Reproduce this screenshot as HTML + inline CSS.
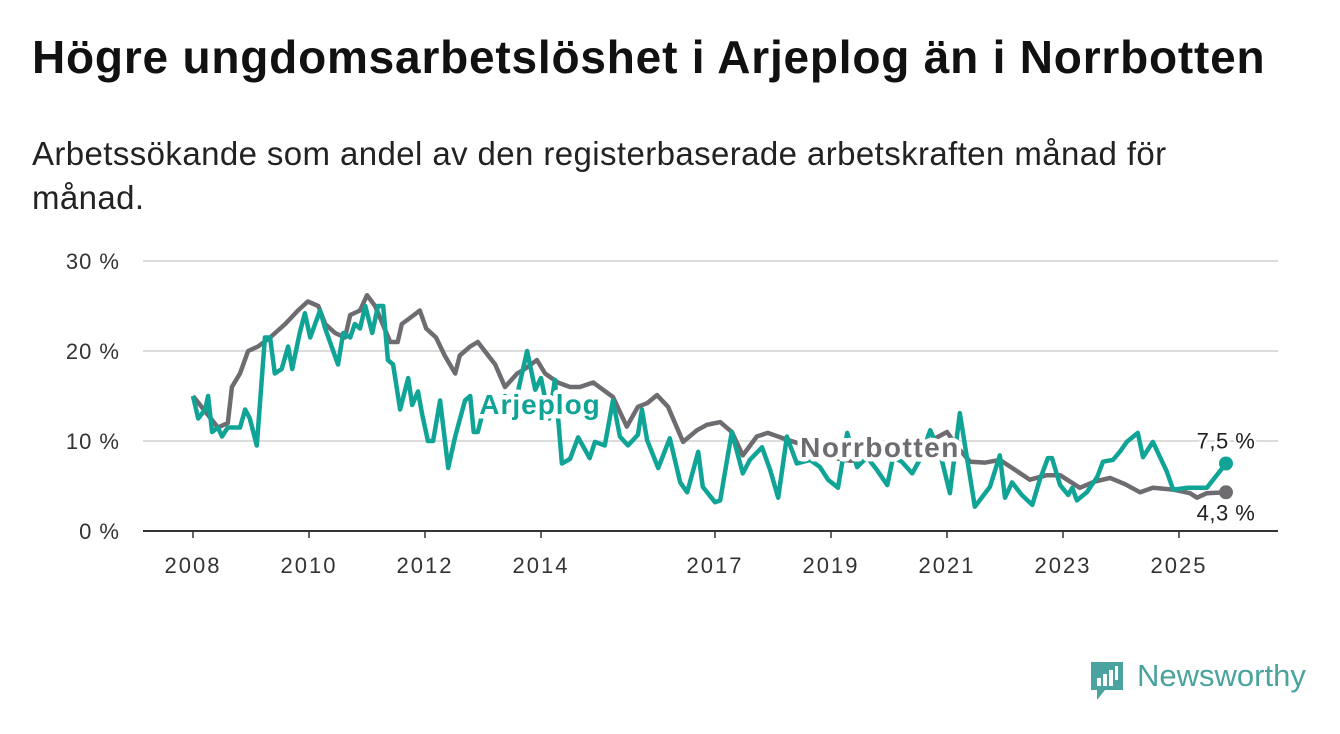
<!DOCTYPE html>
<html><head><meta charset="utf-8">
<style>
body{margin:0;width:1340px;height:734px;background:#fff;overflow:hidden;font-family:"Liberation Sans",sans-serif;}
h1{position:absolute;left:32px;top:30px;margin:0;font-size:46px;font-weight:bold;color:#111;letter-spacing:0.8px;white-space:nowrap}
.sub{position:absolute;left:32px;top:132px;font-size:33px;color:#222;line-height:44px;width:1200px;letter-spacing:0.4px}
svg{position:absolute;left:0;top:0}
</style></head><body>
<h1>Högre ungdomsarbetslöshet i Arjeplog än i Norrbotten</h1>
<div class="sub">Arbetssökande som andel av den registerbaserade arbetskraften månad för månad.</div>
<svg id="chart" width="1340" height="734"></svg>
<div style="position:absolute;left:1089px;top:660px;">
<svg width="36" height="42" style="position:static"><path d="M2 2h32v28H16l-8 10v-10H2z" fill="#4aa39e"/><rect x="8" y="18" width="4" height="8" fill="#fff"/><rect x="14" y="14" width="4" height="12" fill="#fff"/><rect x="20" y="10" width="4" height="16" fill="#fff"/><rect x="26" y="6" width="3" height="14" fill="#fff"/></svg>
<span style="position:absolute;left:48px;top:-2px;font-size:31px;color:#4aa39e;white-space:nowrap">Newsworthy</span></div>
<script>
const yTicks=[0,10,20,30];
const xTickYears=[2008,2010,2012,2014,2017,2019,2021,2023,2025];
const norrYears=[2008.00,2008.43,2008.60,2008.67,2008.81,2008.95,2009.12,2009.33,2009.59,2009.81,2009.98,2010.16,2010.28,2010.45,2010.62,2010.71,2010.88,2011.00,2011.14,2011.40,2011.53,2011.60,2011.81,2011.91,2012.02,2012.19,2012.34,2012.52,2012.60,2012.78,2012.91,2013.09,2013.21,2013.38,2013.59,2013.72,2013.93,2014.07,2014.29,2014.50,2014.67,2014.90,2015.24,2015.48,2015.67,2015.83,2016.00,2016.19,2016.45,2016.69,2016.86,2017.09,2017.29,2017.48,2017.72,2017.91,2018.17,2018.41,2018.64,2018.98,2019.33,2019.67,2020.02,2020.36,2020.71,2021.00,2021.22,2021.40,2021.66,2021.91,2022.17,2022.43,2022.72,2022.95,2023.29,2023.55,2023.81,2024.07,2024.33,2024.55,2024.90,2025.19,2025.31,2025.48,2025.81];
const norrVals=[15,11.5,12,16,17.5,20,20.5,21.5,23,24.5,25.5,25,23,22,21.5,24,24.5,26.2,25,21,21,23,24,24.5,22.5,21.5,19.5,17.5,19.5,20.5,21,19.5,18.5,16,17.5,18,19,17.5,16.5,16,16,16.5,14.9,11.6,13.8,14.2,15.1,13.8,9.9,11.2,11.8,12.1,11,8.4,10.5,10.9,10.3,9.8,9,8.2,7.8,8,8.5,9,10,11,9,7.7,7.6,7.9,6.8,5.7,6.2,6.2,4.8,5.5,5.9,5.2,4.3,4.8,4.6,4.2,3.7,4.2,4.3];
const arjYears=[2008.00,2008.09,2008.21,2008.26,2008.33,2008.43,2008.50,2008.60,2008.81,2008.90,2008.98,2009.10,2009.24,2009.33,2009.41,2009.53,2009.64,2009.71,2009.84,2009.93,2010.02,2010.19,2010.28,2010.50,2010.59,2010.71,2010.79,2010.88,2010.97,2011.09,2011.19,2011.28,2011.36,2011.45,2011.57,2011.71,2011.78,2011.88,2011.95,2012.05,2012.14,2012.26,2012.40,2012.52,2012.69,2012.78,2012.84,2012.91,2013.03,2013.21,2013.38,2013.55,2013.76,2013.90,2014.00,2014.14,2014.24,2014.36,2014.50,2014.64,2014.84,2014.93,2015.10,2015.24,2015.36,2015.50,2015.67,2015.74,2015.83,2016.02,2016.22,2016.40,2016.52,2016.71,2016.79,2017.00,2017.09,2017.29,2017.48,2017.60,2017.81,2017.95,2018.09,2018.24,2018.41,2018.64,2018.81,2018.95,2019.12,2019.28,2019.45,2019.62,2019.79,2019.97,2020.07,2020.22,2020.40,2020.53,2020.71,2020.88,2021.05,2021.22,2021.48,2021.74,2021.91,2022.00,2022.12,2022.29,2022.47,2022.60,2022.74,2022.81,2022.95,2023.09,2023.16,2023.24,2023.41,2023.59,2023.69,2023.86,2023.98,2024.10,2024.29,2024.38,2024.55,2024.79,2024.90,2025.14,2025.48,2025.81];
const arjVals=[15,12.5,13.5,15,11,11.5,10.5,11.5,11.5,13.5,12.5,9.5,21.5,21.5,17.5,18,20.5,18,22,24.2,21.5,24.5,22.5,18.5,22,21.5,23,22.5,25,22,25,25,19,18.5,13.5,17,14,15.5,13,10,10,14.5,7,10.5,14.5,15,11,11,14,13,15,14,20,15.7,17,12.5,16.8,7.5,8,10.4,8.1,9.9,9.5,14.5,10.5,9.5,10.7,13.5,10.1,7,10.3,5.4,4.3,8.8,4.9,3.2,3.4,11,6.4,7.9,9.3,6.8,3.7,10.5,7.5,7.9,7.1,5.7,4.8,10.9,7.1,8.2,6.8,5.1,8.2,7.7,6.4,7.9,11.2,8.7,4.2,13.1,2.7,4.9,8.4,3.7,5.4,4,2.9,5.7,8.1,8.1,5.1,4,4.8,3.4,4.3,6,7.7,7.9,8.8,9.9,10.9,8.2,9.9,6.6,4.6,4.8,4.8,7.5];
const NS="http://www.w3.org/2000/svg";
const svg=document.getElementById('chart');
const X=y=>193+(y-2008)*58;
const Y=v=>531-v*9;
function mk(t,a,p){const e=document.createElementNS(NS,t);for(const k in a)e.setAttribute(k,a[k]);(p||svg).appendChild(e);return e;}
yTicks.forEach(v=>{
  if(v>0){const g=mk('line',{x1:143,x2:1278,y1:Y(v),y2:Y(v),stroke:'#dcdcdc','stroke-width':2});
  
  }
  const t=mk('text',{x:120,y:Y(v)+8,'text-anchor':'end','font-size':22,'letter-spacing':1,fill:'#333','font-family':'Liberation Sans, sans-serif'});
  t.textContent=v+' %';
  
  
});
const ax=mk('line',{x1:143,x2:1278,y1:531,y2:531,stroke:'#333','stroke-width':2});


xTickYears.forEach(yr=>{
  const tk=mk('line',{x1:X(yr),x2:X(yr),y1:531,y2:538,stroke:'#333','stroke-width':1.5});
  
  
  const t=mk('text',{x:X(yr),y:573,'text-anchor':'middle','font-size':22,'letter-spacing':2,fill:'#333','font-family':'Liberation Sans, sans-serif'});
  t.textContent=yr;
  
  
});
function line(xs,vs,col,name){
  const d=xs.map((x,i)=>(i?'L':'M')+X(x).toFixed(1)+' '+Y(vs[i]).toFixed(1)).join('');
  const p=mk('path',{d:d,fill:'none',stroke:col,'stroke-width':4.5,'stroke-linejoin':'round'});
  
  
  const n=xs.length-1;
  const c=mk('circle',{cx:X(xs[n]),cy:Y(vs[n]),r:7,fill:col});
  
  
}
line(norrYears,norrVals,'#6e6c70','norrbotten');
line(arjYears,arjVals,'#10a497','arjeplog');
function lab(txt,x,y,col,size,bold,name,ls){
  const t=mk('text',{x:x,y:y,'text-anchor':'middle','font-size':size,'letter-spacing':ls||0,'font-weight':bold?'bold':'normal',fill:col,stroke:'#fff','stroke-width':bold?9:5,'paint-order':'stroke','stroke-linejoin':'round','font-family':'Liberation Sans, sans-serif'});
  t.textContent=txt;
  
  
}
lab('Arjeplog',540,414,'#10a497',28,true,'arjeplog-label',1);
lab('Norrbotten',880,457,'#6e6c70',28,true,'norrbotten-label',1.5);
const lastA=arjVals[arjVals.length-1], lastN=norrVals[norrVals.length-1];
lab(String(lastA).replace('.',',')+' %',1226,Y(lastA)-15,'#222',22,false,'arjeplog-end-value',0.5);
lab(String(lastN).replace('.',',')+' %',1226,Y(lastN)+28,'#222',22,false,'norrbotten-end-value',0.5);
</script>
</body></html>
